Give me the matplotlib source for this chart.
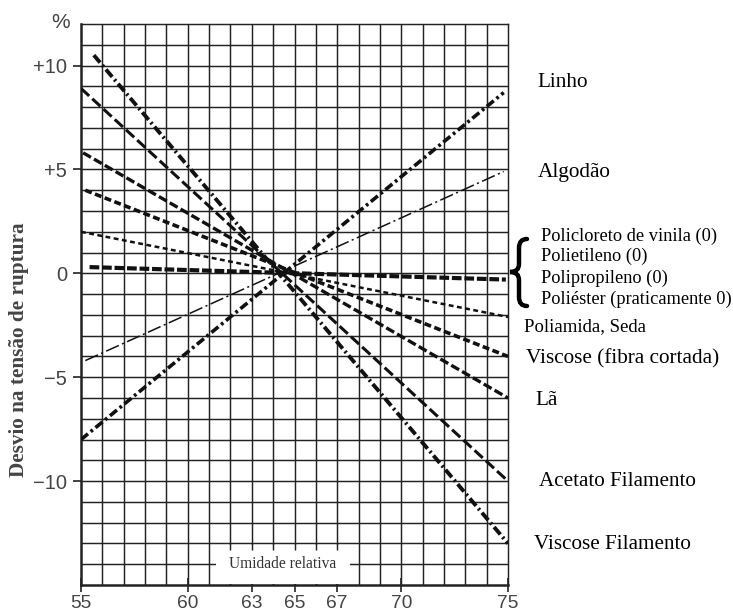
import matplotlib
matplotlib.use("Agg")
import matplotlib.pyplot as plt
from matplotlib.path import Path
from matplotlib.patches import PathPatch, Rectangle
import numpy as np

plt.rcParams['lines.scale_dashes'] = False

# fibre lines: start and end points
fibres = ["Linho", "Algodão", "Policloreto", "Poliamida, Seda", "Viscose (fibra cortada)",
          "Lã", "Acetato Filamento", "Viscose Filamento"]
x_start = [55.0, 55.2, 55.4, 55.0, 55.2, 55.1, 55.0, 55.6]
y_start = [-8.0, -4.2, 0.3, 2.0, 4.0, 5.8, 8.9, 10.5]
x_end = [74.8, 74.8, 74.9, 75.0, 75.0, 75.0, 75.0, 75.0]
y_end = [8.7, 4.9, -0.3, -2.1, -4.0, -6.0, -10.0, -13.0]

# line look per fibre
widths = [2.6, 1.1, 3.0, 1.8, 2.6, 2.4, 2.2, 2.8]
dash_list = [(6.5, 2.5, 2, 2.5), (10, 2.5, 1.5, 2.5), (7, 2), (3.5, 2.5),
             (5, 2.5), (6.5, 2.5), (8, 3), (7, 2.5, 1.5, 2.5)]

xticks = [55, 60, 63, 65, 67, 70, 75]
yticks = [10, 5, 0, -5, -10]
ylabels = ["+10", "+5", "0", "\u22125", "\u221210"]

# labels on the right (text, x, y in data units)
right_labels = ["Linho", "Algodão", "Policloreto de vinila (0)", "Polietileno (0)",
                "Polipropileno (0)", "Poliéster (praticamente 0)", "Poliamida, Seda",
                "Viscose (fibra cortada)", "Lã", "Acetato Filamento", "Viscose Filamento"]
lab_x = [76.4, 76.4, 76.55, 76.55, 76.55, 76.55, 75.75, 75.85, 76.3, 76.45, 76.2]
lab_y = [9.2, 4.85, 1.8, 0.8, -0.25, -1.25, -2.55, -4.1, -6.1, -10.0, -13.05]
lab_size = [15.3, 15.3, 13.2, 13.2, 13.2, 13.2, 13.5, 15.3, 15.3, 15.2, 15.2]

fig = plt.figure(figsize=(7.33, 6.15), dpi=100)
ax = fig.add_axes([81/733, 1-585/615, (508-81)/733, (585-24)/615])
ax.set_xlim(55, 75)
ax.set_ylim(-15, 12)

# grid, one unit squares
ax.vlines(np.arange(56, 75), -15, 12, color="#222222", lw=1.05, zorder=1)
ax.hlines(np.arange(-14, 12), 55, 75, color="#222222", lw=1.05, zorder=1)

# gap for the axis caption, with little stubs left of the grid
ax.add_patch(Rectangle((61.3, -14.96), 6.3, 1.9, facecolor="white", edgecolor="none", zorder=2))
ax.vlines(np.arange(62, 68), -13.05, -13.3, color="#222222", lw=1.05, zorder=3)
ax.text(64.45, -14, "Umidade relativa", ha="center", va="center", fontsize=11.2,
        family="Liberation Serif", color="#333333", zorder=3)

for i in range(len(fibres)):
    ax.plot([x_start[i], x_end[i]], [y_start[i], y_end[i]], color="#111111",
            lw=widths[i], dashes=dash_list[i], solid_capstyle="butt", zorder=4)

for s in ["top", "right"]:
    ax.spines[s].set_linewidth(1.05)
    ax.spines[s].set_color("#222222")
for s in ["left", "bottom"]:
    ax.spines[s].set_linewidth(1.8)
    ax.spines[s].set_color("#222222")

ax.set_xticks(xticks)
ax.set_xticklabels([str(v) for v in xticks])
ax.set_xticks([62, 64, 66], minor=True)
ax.tick_params(axis="x", which="major", direction="inout", length=10, width=1.2,
               pad=2, labelsize=13.8, labelcolor="#444444", color="#222222")
ax.tick_params(axis="x", which="minor", direction="in", length=5, width=1.0, color="#222222")
ax.set_yticks(yticks)
ax.set_yticklabels(ylabels)
ax.tick_params(axis="y", direction="out", length=6, width=1.2, pad=4,
               labelsize=14.5, labelcolor="#444444", color="#222222")
for t in ax.get_xticklabels() + ax.get_yticklabels():
    t.set_family("Liberation Sans")

fig.text(61/733, 1-22/615, "%", ha="center", va="center", fontsize=15,
         family="Liberation Sans", color="#444444")
fig.text(19/733, 1-350/615, "Desvio na tensão de ruptura", rotation=90, ha="center",
         va="center", fontsize=15.3, family="Liberation Serif", fontweight="bold", color="#444444")

for i in range(len(right_labels)):
    ax.text(lab_x[i], lab_y[i], right_labels[i], ha="left", va="center", fontsize=lab_size[i],
            family="Liberation Serif", color="black", clip_on=False)

# brace in front of the four polymers
W, H = 733.0, 615.0
pts = [(527, 239), (519, 239), (519, 248), (519, 264), (519, 272), (510, 272),
       (519, 272), (519, 280), (519, 297), (519, 306), (527, 306)]
codes = [Path.MOVETO, Path.CURVE3, Path.CURVE3, Path.LINETO, Path.CURVE3, Path.CURVE3,
         Path.CURVE3, Path.CURVE3, Path.LINETO, Path.CURVE3, Path.CURVE3]
brace = Path([(px/W, 1-py/H) for px, py in pts], codes)
fig.patches.append(PathPatch(brace, transform=fig.transFigure, facecolor="none",
                             edgecolor="black", lw=3.2, capstyle="round"))

fig.savefig("out.png", dpi=100)
